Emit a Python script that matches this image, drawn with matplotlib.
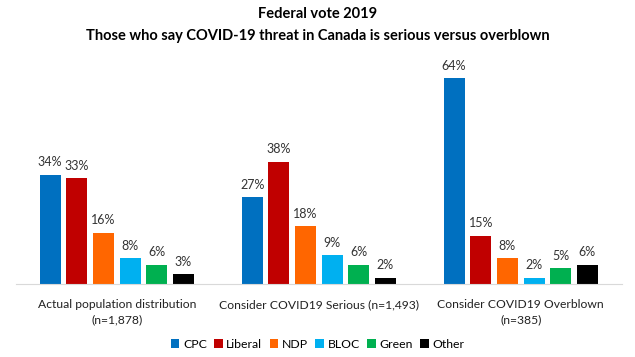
import numpy as np
import matplotlib.pyplot as plt

# Données
groupes = ['Actual population distribution\n(n=1,878)',
           'Consider COVID19 Serious (n=1,493)',
           'Consider COVID19 Overblown\n(n=385)']
partis = ['CPC', 'Liberal', 'NDP', 'BLOC', 'Green', 'Other']
cpc = [34, 27, 64]
liberal = [33, 38, 15]
ndp = [16, 18, 8]
bloc = [8, 9, 2]
green = [6, 6, 5]
other = [3, 2, 6]

couleurs = ['#0070C0', '#C00000', '#FF6600', '#00B0F0', '#00B050', '#000000']
series = [cpc, liberal, ndp, bloc, green, other]

plt.rcParams['font.family'] = ['Lato', 'DejaVu Sans']

fig = plt.figure(figsize=(6.35, 3.57), dpi=100)
ax = fig.add_axes([0.025, 0.2045, 0.954, 0.63])

x = np.arange(len(groupes))
pas = 0.132
largeur = 0.104
for i, (nom, vals, c) in enumerate(zip(partis, series, couleurs)):
    pos = x + (i - 2.5) * pas
    barres = ax.bar(pos, vals, largeur, color=c, label=nom)
    for b, v in zip(barres, vals):
        ax.text(b.get_x() + b.get_width() / 2, v + 2, f'{v}%',
                ha='center', va='bottom', fontsize=9, color='#333333')

ax.set_xlim(-0.5, 2.5)
ax.set_ylim(0, 70)
ax.set_yticks([])
ax.set_xticks(x)
ax.set_xticklabels(groupes, fontsize=8.7, color='#222222', linespacing=1.4)
ax.tick_params(axis='x', length=0, pad=11)
for s in ['top', 'right', 'left']:
    ax.spines[s].set_visible(False)
ax.spines['bottom'].set_color('#D9D9D9')

fig.text(0.5, 0.96, 'Federal vote 2019', ha='center', va='center',
         fontsize=10.5, fontweight='bold')
fig.text(0.5, 0.9, 'Those who say COVID-19 threat in Canada is serious versus overblown',
         ha='center', va='center', fontsize=10.5, fontweight='bold')

fig.legend(loc='center', bbox_to_anchor=(0.5, 0.036), ncol=6, frameon=False,
           fontsize=8.8, handlelength=0.7, handleheight=0.7, handletextpad=0.3,
           columnspacing=0.6)

fig.savefig('out.png', dpi=100)
